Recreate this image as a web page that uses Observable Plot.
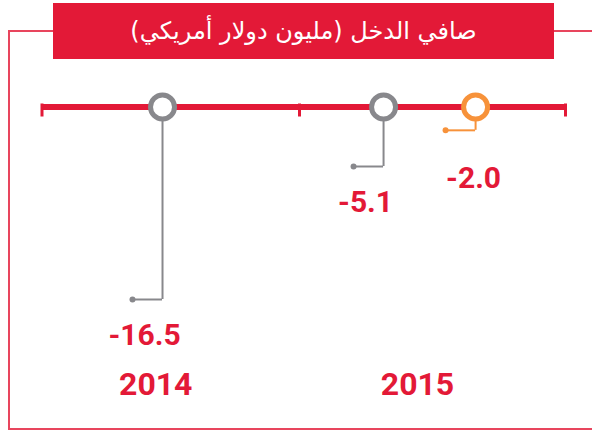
<!DOCTYPE html>
<html>
<head>
<meta charset="utf-8">
<script src="https://cdn.jsdelivr.net/npm/d3@7"></script>
<script src="https://cdn.jsdelivr.net/npm/@observablehq/plot@0.6"></script>
<style>
  html, body { margin: 0; padding: 0; background: #fff; overflow: hidden; }
  #wrap { position: relative; width: 592px; height: 433px; overflow: hidden; }
  #frame { position: absolute; left: 8px; top: 30px; width: 620px; height: 400px;
           border-left: 2px solid #e8455d; border-top: 2px solid #e8455d; border-bottom: 2px solid #e8455d; box-sizing: border-box; }
  #title { position: absolute; left: 53px; top: 3px; width: 501px; height: 56px; background: #e31937;
           color: #fff; font-family: "DejaVu Sans", sans-serif; font-size: 24px; direction: rtl;
           display: flex; align-items: center; justify-content: center; line-height: 1; }
  #chart { position: absolute; left: 0; top: 0; width: 592px; height: 433px; }
  #chart svg { max-width: none !important; background: transparent; }
</style>
</head>
<body>
<div id="wrap">
  <div id="frame"></div>
  <div id="chart"></div>
  <div id="title"></div>
</div>
<script>
const titleText = "صافي الدخل (مليون دولار أمريكي)";
const years = [2014, 2015];
const boundaries = [2014, 2015, 2016];
const pointTimes = [2014.468, 2015.316, 2015.662];
const values = [-16.5, -5.1, -2.0];
const series = ["series1", "series1", "series2"];
const valueLabels = ["-16.5", "-5.1", "-2.0"];

const RED = "#e31937";
const GRAY = "#88888c";
const ORANGE = "#f7923a";

document.getElementById("title").textContent = titleText;

const points = values.map((v, i) => ({t: pointTimes[i], value: v, series: series[i], label: valueLabels[i]}));
const yearData = years.map(y => ({t: y + 0.5, label: String(y)}));

const numFont = "Roboto, sans-serif";

const chart = Plot.plot({
  width: 592,
  height: 433,
  marginTop: 0, marginLeft: 0, marginRight: 0, marginBottom: 39,
  x: {type: "linear", domain: boundaries, range: [41.5, 299, 565], axis: null},
  y: {type: "linear", domain: [0, -16.5], range: [106.5, 299], axis: null},
  color: {type: "ordinal", domain: ["series1", "series2"], range: [GRAY, ORANGE]},
  marks: [
    Plot.ruleX(points, {x: "t", y1: 0, y2: "value", stroke: "series", strokeWidth: 2}),
    Plot.ruleY(points, {x1: "t", x2: "t", y: "value", insetLeft: -30, stroke: "series", strokeWidth: 2}),
    Plot.dot(points, {x: "t", y: "value", dx: -30, r: 3, fill: "series", stroke: null}),
    Plot.ruleY([0], {x1: boundaries[0], x2: boundaries[boundaries.length - 1], stroke: RED, strokeWidth: 6}),
    Plot.ruleX(boundaries, {x: d => d, y1: 0, y2: 0, insetTop: -3, insetBottom: -10, stroke: RED, strokeWidth: 3}),
    Plot.dot(points, {x: "t", y: 0, r: 12, stroke: "series", strokeWidth: 5, fill: "white"}),
    Plot.text(points.filter(d => d.series === "series1"), {x: "t", y: "value", text: "label", dx: -18, dy: 45,
      lineAnchor: "bottom", fill: RED, fontFamily: numFont, fontWeight: 700, fontSize: 30}),
    Plot.text(points.filter(d => d.series === "series2"), {x: "t", y: "value", text: "label", dx: -2, dy: 58,
      lineAnchor: "bottom", fill: RED, fontFamily: numFont, fontWeight: 700, fontSize: 30}),
    Plot.text(yearData, {x: "t", frameAnchor: "bottom", text: "label", dx: -15, lineAnchor: "bottom",
      fill: RED, fontFamily: numFont, fontWeight: 700, fontSize: 32})
  ]
});
document.getElementById("chart").appendChild(chart);
</script>
</body>
</html>
